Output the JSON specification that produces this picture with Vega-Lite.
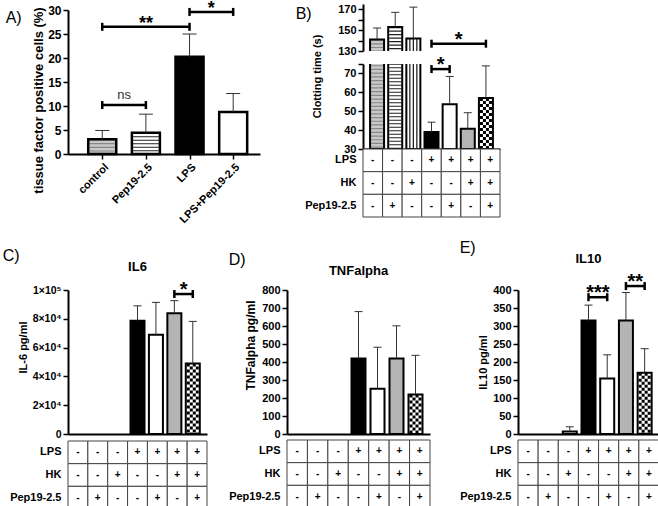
{
"$schema":"https://vega.github.io/schema/vega-lite/v6.json",
"background":"white",
"padding":{"left":2,"top":-1,"right":0,"bottom":0},
"config":{"font":"Liberation Sans","view":{"stroke":null},
"axis":{"domainColor":"black","domainWidth":2,"tickColor":"black","tickWidth":1.5,"tickSize":5,"labelColor":"black","labelFontWeight":"bold","labelFontSize":11,"titleColor":"black","titleFontWeight":"bold","titleFontSize":11,"grid":false,"labelPadding":2,"titlePadding":4},
"title":{"fontWeight":"bold","fontSize":13,"color":"black"}},
"datasets":{
"a":[{"col":1,"g":1,"val":3.06,"err":4.9},{"col":2,"g":2,"val":4.45,"err":8.3},{"col":3,"g":4,"val":20.25,"err":25.0},{"col":4,"g":5,"val":8.77,"err":12.6}],
"sA_r":[{"col":1,"col2":2,"val":10.2},{"col":1,"col2":3,"val":26.5},{"col":3,"col2":4,"val":29.6}],
"sA_c":[{"col":1,"val":10.2},{"col":2,"val":10.2},{"col":1,"val":26.5},{"col":3,"val":26.5},{"col":3,"val":29.6},{"col":4,"val":29.6}],
"sA_t":[{"col":1.5,"val":10.2,"label":"ns"},{"col":2,"val":26.5,"label":"**"},{"col":3.5,"val":29.6,"label":"*"}],
"b":[{"col":1,"val":141,"err":152},{"col":2,"val":153,"err":167},{"col":3,"val":142,"err":172},{"col":4,"val":39,"err":44.2},{"col":5,"val":53.7,"err":68.4},{"col":6,"val":40.7,"err":49.2},{"col":7,"val":57,"err":74}],
"sB1_r":[{"col":4,"col2":7,"val":137}],
"sB1_c":[{"col":4,"val":137},{"col":7,"val":137}],
"sB1_t":[{"col":5.5,"val":137,"label":"*"}],
"sB2_r":[{"col":4,"col2":5,"val":72.3}],
"sB2_c":[{"col":4,"val":72.3},{"col":5,"val":72.3}],
"sB2_t":[{"col":4.5,"val":72.3,"label":"*"}],
"c":[{"col":4,"val":78700,"err":89000},{"col":5,"val":69000,"err":91400},{"col":6,"val":83800,"err":92600},{"col":7,"val":49000,"err":78200}],
"sC_r":[{"col":6,"col2":7,"val":97200}],
"sC_c":[{"col":6,"val":97200},{"col":7,"val":97200}],
"sC_t":[{"col":6.5,"val":97200,"label":"*"}],
"d":[{"col":4,"val":419,"err":680},{"col":5,"val":252,"err":482},{"col":6,"val":419,"err":601},{"col":7,"val":220,"err":437}],
"e":[{"col":3,"val":7,"err":20},{"col":4,"val":315,"err":358},{"col":5,"val":154,"err":220},{"col":6,"val":315,"err":393},{"col":7,"val":170,"err":237}],
"sE_r":[{"col":4,"col2":5,"val":380},{"col":6,"col2":7,"val":411}],
"sE_c":[{"col":4,"val":380},{"col":5,"val":380},{"col":6,"val":411},{"col":7,"val":411}],
"sE_t":[{"col":4.5,"val":380,"label":"***"},{"col":6.5,"val":411,"label":"**"}],
"tbl":[{"col":1,"row":"LPS","sym":"-"},{"col":2,"row":"LPS","sym":"-"},{"col":3,"row":"LPS","sym":"-"},{"col":4,"row":"LPS","sym":"+"},{"col":5,"row":"LPS","sym":"+"},{"col":6,"row":"LPS","sym":"+"},{"col":7,"row":"LPS","sym":"+"},
{"col":1,"row":"HK","sym":"-"},{"col":2,"row":"HK","sym":"-"},{"col":3,"row":"HK","sym":"+"},{"col":4,"row":"HK","sym":"-"},{"col":5,"row":"HK","sym":"-"},{"col":6,"row":"HK","sym":"+"},{"col":7,"row":"HK","sym":"+"},
{"col":1,"row":"Pep19-2.5","sym":"-"},{"col":2,"row":"Pep19-2.5","sym":"+"},{"col":3,"row":"Pep19-2.5","sym":"-"},{"col":4,"row":"Pep19-2.5","sym":"-"},{"col":5,"row":"Pep19-2.5","sym":"+"},{"col":6,"row":"Pep19-2.5","sym":"-"},{"col":7,"row":"Pep19-2.5","sym":"+"}]
},
"spacing":15,
"vconcat":[
{"spacing":35,"hconcat":[
 {"spacing":0,"bounds":"flush","vconcat":[
  {"width":192,"height":6,"data":{"values":[{}]},"mark":{"type":"rule","opacity":0},"encoding":{}},
  {"title":{"text":"A)","anchor":"start","frame":"bounds","fontSize":16,"fontWeight":"normal","offset":-13,"dx":-27,"dy":13},
  "width":192,"height":144,
  "data":{"name":"a"},
  "encoding":{
   "x":{"field":"col","type":"quantitative","scale":{"domain":[0.33,4.5],"nice":false,"zero":false},"axis":{"values":[1,2,3,4],"labelExpr":"['','control','Pep19-2.5','LPS','LPS+Pep19-2.5'][datum.value]","labelAngle":-45,"labelAlign":"right","labelBaseline":"top","labelFontSize":11,"labelOverlap":false,"title":null,"labelPadding":2}},
   "y":{"field":"val","type":"quantitative","scale":{"domain":[0,30],"nice":false},"axis":{"values":[0,5,10,15,20,25,30],"title":"tissue factor positive cells (%)","titleFontSize":13,"titleY":90,"titlePadding":2,"labelFontSize":12}}
  },
  "layer":[
   {"mark":{"type":"bar","width":28},"encoding":{"y2":{"datum":0},"fill":{"field":"g","type":"ordinal","scale":{"domain":[1,2,3,4,5,6,7],"range":["#c8c8c8","white","white","black","white","#b4b4b4","white"]},"legend":null}}},
   {"transform":[{"filter":"datum.col==1"}],"mark":{"type":"rule","strokeWidth":26,"strokeDash":[1.2,2.5],"stroke":"#888"},"encoding":{"y2":{"datum":0}}},
   {"transform":[{"filter":"datum.col==2"}],"mark":{"type":"rule","strokeWidth":26,"strokeDash":[1.2,2.3],"stroke":"#222"},"encoding":{"y2":{"datum":0}}},
   {"mark":{"type":"bar","width":28,"fill":"transparent","stroke":"black","strokeWidth":2.5},"encoding":{"y2":{"datum":0}}},
   {"mark":{"type":"rule","stroke":"#333","strokeWidth":1},"encoding":{"y2":{"field":"err"}}},
   {"mark":{"type":"point","shape":"M-1,0H1","size":196,"filled":false,"stroke":"#333","strokeWidth":1,"opacity":1},"encoding":{"y":{"field":"err","type":"quantitative","scale":{"domain":[0,30],"nice":false}}}},
   {"data":{"name":"sA_r"},"mark":{"type":"rule","stroke":"black","strokeWidth":2.5},"encoding":{"x2":{"field":"col2"}}},
   {"data":{"name":"sA_c"},"mark":{"type":"point","shape":"M0,-1V1","size":64,"filled":false,"stroke":"black","strokeWidth":2.5,"opacity":1}},
   {"data":{"name":"sA_t"},"transform":[{"filter":"datum.label=='ns'"}],"mark":{"type":"text","fontSize":13,"fontWeight":"normal","color":"#333","baseline":"alphabetic","dy":-6},"encoding":{"text":{"field":"label"}}},
   {"data":{"name":"sA_t"},"transform":[{"filter":"datum.label!='ns'"}],"mark":{"type":"text","fontSize":18,"fontWeight":"bold","color":"black","baseline":"alphabetic","dy":2},"encoding":{"text":{"field":"label"}}}
  ]}]},
 {"title":{"text":"B)","anchor":"start","frame":"bounds","fontSize":16,"fontWeight":"normal","offset":-15,"dx":-9,"dy":4},
  "spacing":13,"bounds":"flush",
  "vconcat":[
  {"width":137,"height":47,"data":{"name":"b"},
   "encoding":{
    "x":{"field":"col","type":"quantitative","scale":{"domain":[0.5,7.5],"nice":false,"zero":false},"axis":null},
    "y":{"field":"val","type":"quantitative","scale":{"domain":[130,175],"nice":false,"zero":false},"axis":{"values":[130,140,150,160,170],"title":null}}
   },
   "layer":[
    {"mark":{"type":"bar","width":14,"clip":true},"encoding":{"y2":{"datum":30},"fill":{"field":"col","type":"ordinal","scale":{"domain":[1,2,3,4,5,6,7],"range":["#c8c8c8","white","white","black","white","#b4b4b4","white"]},"legend":null}}},
    {"transform":[{"filter":"datum.col==1"}],"mark":{"type":"rule","clip":true,"strokeWidth":12,"strokeDash":[1.2,2.5],"stroke":"#888"},"encoding":{"y2":{"datum":30}}},
    {"transform":[{"filter":"datum.col==2"}],"mark":{"type":"rule","clip":true,"strokeWidth":12,"strokeDash":[1.2,2.3],"stroke":"#222"},"encoding":{"y2":{"datum":30}}},
    {"transform":[{"filter":"datum.col==3"}],"mark":{"type":"rule","clip":true,"strokeWidth":1.3,"stroke":"#222","xOffset":-3.5},"encoding":{"y2":{"datum":30}}},
    {"transform":[{"filter":"datum.col==3"}],"mark":{"type":"rule","clip":true,"strokeWidth":1.3,"stroke":"#222","xOffset":0},"encoding":{"y2":{"datum":30}}},
    {"transform":[{"filter":"datum.col==3"}],"mark":{"type":"rule","clip":true,"strokeWidth":1.3,"stroke":"#222","xOffset":3.5},"encoding":{"y2":{"datum":30}}},
    {"mark":{"type":"bar","width":14,"clip":true,"fill":"transparent","stroke":"black","strokeWidth":2},"encoding":{"y2":{"datum":30}}},
    {"mark":{"type":"rule","clip":true,"stroke":"#333","strokeWidth":1},"encoding":{"y2":{"field":"err"}}},
    {"mark":{"type":"point","clip":true,"shape":"M-1,0H1","size":64,"filled":false,"stroke":"#333","strokeWidth":1,"opacity":1},"encoding":{"y":{"field":"err","type":"quantitative","scale":{"domain":[130,175],"nice":false,"zero":false}}}},
    {"data":{"name":"sB1_r"},"mark":{"type":"rule","stroke":"black","strokeWidth":2.5},"encoding":{"x2":{"field":"col2"}}},
    {"data":{"name":"sB1_c"},"mark":{"type":"point","shape":"M0,-1V1","size":64,"filled":false,"stroke":"black","strokeWidth":2.5,"opacity":1}},
    {"data":{"name":"sB1_t"},"mark":{"type":"text","fontSize":20,"fontWeight":"bold","color":"black","baseline":"alphabetic","dy":2},"encoding":{"text":{"field":"label"}}}
   ]},
  {"spacing":0,"bounds":"flush","vconcat":[
   {"width":137,"height":85,"data":{"name":"b"},
    "encoding":{
     "x":{"field":"col","type":"quantitative","scale":{"domain":[0.5,7.5],"nice":false,"zero":false},"axis":{"labels":false,"ticks":false,"title":null}},
     "y":{"field":"val","type":"quantitative","scale":{"domain":[30,75],"nice":false,"zero":false},"axis":{"values":[30,40,50,60,70,75],"labelExpr":"datum.value==75?'':datum.label","title":"Clotting time (s)","titleY":12,"titlePadding":21}}
    },
    "layer":[
     {"mark":{"type":"bar","width":14,"clip":true},"encoding":{"y2":{"datum":30},"fill":{"field":"col","type":"ordinal","scale":{"domain":[1,2,3,4,5,6,7],"range":["#c8c8c8","white","white","black","white","#b4b4b4","white"]},"legend":null}}},
     {"transform":[{"filter":"datum.col==1"}],"mark":{"type":"rule","clip":true,"strokeWidth":12,"strokeDash":[1.2,2.5],"stroke":"#888"},"encoding":{"y2":{"datum":30}}},
     {"transform":[{"filter":"datum.col==2"}],"mark":{"type":"rule","clip":true,"strokeWidth":12,"strokeDash":[1.2,2.3],"stroke":"#222"},"encoding":{"y2":{"datum":30}}},
     {"transform":[{"filter":"datum.col==3"}],"mark":{"type":"rule","clip":true,"strokeWidth":1.3,"stroke":"#222","xOffset":-3.5},"encoding":{"y2":{"datum":30}}},
     {"transform":[{"filter":"datum.col==3"}],"mark":{"type":"rule","clip":true,"strokeWidth":1.3,"stroke":"#222","xOffset":0},"encoding":{"y2":{"datum":30}}},
     {"transform":[{"filter":"datum.col==3"}],"mark":{"type":"rule","clip":true,"strokeWidth":1.3,"stroke":"#222","xOffset":3.5},"encoding":{"y2":{"datum":30}}},
     {"transform":[{"filter":"datum.col==7"}],"mark":{"type":"rule","clip":true,"strokeWidth":3,"stroke":"black","strokeDash":[3,3],"strokeDashOffset":0,"xOffset":-4.5},"encoding":{"y2":{"datum":30}}},
     {"transform":[{"filter":"datum.col==7"}],"mark":{"type":"rule","clip":true,"strokeWidth":3,"stroke":"black","strokeDash":[3,3],"strokeDashOffset":3,"xOffset":-1.5},"encoding":{"y2":{"datum":30}}},
     {"transform":[{"filter":"datum.col==7"}],"mark":{"type":"rule","clip":true,"strokeWidth":3,"stroke":"black","strokeDash":[3,3],"strokeDashOffset":0,"xOffset":1.5},"encoding":{"y2":{"datum":30}}},
     {"transform":[{"filter":"datum.col==7"}],"mark":{"type":"rule","clip":true,"strokeWidth":3,"stroke":"black","strokeDash":[3,3],"strokeDashOffset":3,"xOffset":4.5},"encoding":{"y2":{"datum":30}}},
     {"mark":{"type":"bar","width":14,"clip":true,"fill":"transparent","stroke":"black","strokeWidth":2},"encoding":{"y2":{"datum":30}}},
     {"mark":{"type":"rule","clip":true,"stroke":"#333","strokeWidth":1},"encoding":{"y2":{"field":"err"}}},
     {"mark":{"type":"point","clip":true,"shape":"M-1,0H1","size":64,"filled":false,"stroke":"#333","strokeWidth":1,"opacity":1},"encoding":{"y":{"field":"err","type":"quantitative","scale":{"domain":[30,75],"nice":false,"zero":false}}}},
     {"data":{"name":"sB2_r"},"mark":{"type":"rule","stroke":"black","strokeWidth":2.5},"encoding":{"x2":{"field":"col2"}}},
     {"data":{"name":"sB2_c"},"mark":{"type":"point","shape":"M0,-1V1","size":64,"filled":false,"stroke":"black","strokeWidth":2.5,"opacity":1}},
     {"data":{"name":"sB2_t"},"mark":{"type":"text","fontSize":20,"fontWeight":"bold","color":"black","baseline":"alphabetic","dy":2},"encoding":{"text":{"field":"label"}}}
    ]},
   {"width":137,"height":68,"data":{"name":"tbl"},
    "encoding":{
     "x":{"field":"col","type":"ordinal","axis":null,"scale":{"paddingInner":0,"paddingOuter":0}},
     "y":{"field":"row","type":"nominal","sort":["LPS","HK","Pep19-2.5"],"scale":{"paddingInner":0,"paddingOuter":0},"axis":{"title":null,"domain":false,"ticks":false,"labelPadding":7}}
    },
    "layer":[
     {"mark":{"type":"rect","fill":"white","stroke":"#444","strokeWidth":1}},
     {"mark":{"type":"text","fontSize":10,"fontWeight":"bold","color":"black"},"encoding":{"text":{"field":"sym"}}}
    ]}
  ]}
 ]}
]},
{"spacing":20,"hconcat":[
 {"title":{"text":"C)","anchor":"start","frame":"bounds","fontSize":16,"fontWeight":"normal","offset":2,"dx":-7,"dy":5},
  "spacing":0,
  "vconcat":[
  {"width":139,"height":144,"title":{"text":"IL6","frame":"group","offset":6},"data":{"name":"c"},
   "encoding":{
    "x":{"field":"col","type":"quantitative","scale":{"domain":[0.5,7.5],"nice":false,"zero":false},"axis":{"labels":false,"ticks":false,"title":null}},
    "y":{"field":"val","type":"quantitative","scale":{"domain":[0,100000],"nice":false},"axis":{"values":[0,20000,40000,60000,80000,100000],"labelExpr":"datum.value==0?'0':datum.value==100000?'1×10⁵':(datum.value/10000)+'×10⁴'","title":"IL-6 pg/ml","titleY":57,"labelFontSize":10.5}}
   },
   "layer":[
    {"mark":{"type":"bar","width":14},"encoding":{"y2":{"datum":0},"fill":{"field":"col","type":"ordinal","scale":{"domain":[1,2,3,4,5,6,7],"range":["#c8c8c8","white","white","black","white","#b4b4b4","white"]},"legend":null}}},
    {"transform":[{"filter":"datum.col==7"}],"mark":{"type":"rule","strokeWidth":3,"stroke":"black","strokeDash":[3,3],"strokeDashOffset":0,"xOffset":-4.5},"encoding":{"y2":{"datum":0}}},
    {"transform":[{"filter":"datum.col==7"}],"mark":{"type":"rule","strokeWidth":3,"stroke":"black","strokeDash":[3,3],"strokeDashOffset":3,"xOffset":-1.5},"encoding":{"y2":{"datum":0}}},
    {"transform":[{"filter":"datum.col==7"}],"mark":{"type":"rule","strokeWidth":3,"stroke":"black","strokeDash":[3,3],"strokeDashOffset":0,"xOffset":1.5},"encoding":{"y2":{"datum":0}}},
    {"transform":[{"filter":"datum.col==7"}],"mark":{"type":"rule","strokeWidth":3,"stroke":"black","strokeDash":[3,3],"strokeDashOffset":3,"xOffset":4.5},"encoding":{"y2":{"datum":0}}},
    {"mark":{"type":"bar","width":14,"fill":"transparent","stroke":"black","strokeWidth":2},"encoding":{"y2":{"datum":0}}},
    {"mark":{"type":"rule","stroke":"#333","strokeWidth":1},"encoding":{"y2":{"field":"err"}}},
    {"mark":{"type":"point","shape":"M-1,0H1","size":64,"filled":false,"stroke":"#333","strokeWidth":1,"opacity":1},"encoding":{"y":{"field":"err","type":"quantitative","scale":{"domain":[0,100000],"nice":false}}}},
    {"data":{"name":"sC_r"},"mark":{"type":"rule","stroke":"black","strokeWidth":2.5},"encoding":{"x2":{"field":"col2"}}},
    {"data":{"name":"sC_c"},"mark":{"type":"point","shape":"M0,-1V1","size":64,"filled":false,"stroke":"black","strokeWidth":2.5,"opacity":1}},
    {"data":{"name":"sC_t"},"mark":{"type":"text","fontSize":20,"fontWeight":"bold","color":"black","baseline":"alphabetic","dy":2},"encoding":{"text":{"field":"label"}}}
   ]},
  {"width":139,"height":68,"data":{"name":"tbl"},
   "encoding":{
    "x":{"field":"col","type":"ordinal","axis":null,"scale":{"paddingInner":0,"paddingOuter":0}},
    "y":{"field":"row","type":"nominal","sort":["LPS","HK","Pep19-2.5"],"scale":{"paddingInner":0,"paddingOuter":0},"axis":{"title":null,"domain":false,"ticks":false,"labelPadding":7}}
   },
   "layer":[
    {"mark":{"type":"rect","fill":"white","stroke":"#444","strokeWidth":1}},
    {"mark":{"type":"text","fontSize":10,"fontWeight":"bold","color":"black"},"encoding":{"text":{"field":"sym"}}}
   ]}
 ]},
 {"spacing":28,"hconcat":[
  {"title":{"text":"D)","anchor":"start","frame":"bounds","fontSize":16,"fontWeight":"normal","offset":2,"dy":5},
   "spacing":0,
   "vconcat":[
   {"width":143,"height":144,"title":{"text":"TNFalpha","frame":"group","offset":6},"data":{"name":"d"},
    "encoding":{
     "x":{"field":"col","type":"quantitative","scale":{"domain":[0.5,7.5],"nice":false,"zero":false},"axis":{"labels":false,"ticks":false,"title":null}},
     "y":{"field":"val","type":"quantitative","scale":{"domain":[0,800],"nice":false},"axis":{"values":[0,100,200,300,400,500,600,700,800],"title":"TNFalpha pg/ml","titleY":55,"titleFontSize":12}}
    },
    "layer":[
     {"mark":{"type":"bar","width":14},"encoding":{"y2":{"datum":0},"fill":{"field":"col","type":"ordinal","scale":{"domain":[1,2,3,4,5,6,7],"range":["#c8c8c8","white","white","black","white","#b4b4b4","white"]},"legend":null}}},
     {"transform":[{"filter":"datum.col==7"}],"mark":{"type":"rule","strokeWidth":3,"stroke":"black","strokeDash":[3,3],"strokeDashOffset":0,"xOffset":-4.5},"encoding":{"y2":{"datum":0}}},
     {"transform":[{"filter":"datum.col==7"}],"mark":{"type":"rule","strokeWidth":3,"stroke":"black","strokeDash":[3,3],"strokeDashOffset":3,"xOffset":-1.5},"encoding":{"y2":{"datum":0}}},
     {"transform":[{"filter":"datum.col==7"}],"mark":{"type":"rule","strokeWidth":3,"stroke":"black","strokeDash":[3,3],"strokeDashOffset":0,"xOffset":1.5},"encoding":{"y2":{"datum":0}}},
     {"transform":[{"filter":"datum.col==7"}],"mark":{"type":"rule","strokeWidth":3,"stroke":"black","strokeDash":[3,3],"strokeDashOffset":3,"xOffset":4.5},"encoding":{"y2":{"datum":0}}},
     {"mark":{"type":"bar","width":14,"fill":"transparent","stroke":"black","strokeWidth":2},"encoding":{"y2":{"datum":0}}},
     {"mark":{"type":"rule","stroke":"#333","strokeWidth":1},"encoding":{"y2":{"field":"err"}}},
     {"mark":{"type":"point","shape":"M-1,0H1","size":64,"filled":false,"stroke":"#333","strokeWidth":1,"opacity":1},"encoding":{"y":{"field":"err","type":"quantitative","scale":{"domain":[0,800],"nice":false}}}}
    ]},
   {"width":143,"height":68,"data":{"name":"tbl"},
    "encoding":{
     "x":{"field":"col","type":"ordinal","axis":null,"scale":{"paddingInner":0,"paddingOuter":0}},
     "y":{"field":"row","type":"nominal","sort":["LPS","HK","Pep19-2.5"],"scale":{"paddingInner":0,"paddingOuter":0},"axis":{"title":null,"domain":false,"ticks":false,"labelPadding":7}}
    },
    "layer":[
     {"mark":{"type":"rect","fill":"white","stroke":"#444","strokeWidth":1}},
     {"mark":{"type":"text","fontSize":10,"fontWeight":"bold","color":"black"},"encoding":{"text":{"field":"sym"}}}
    ]}
  ]},
  {"title":{"text":"E)","anchor":"start","frame":"bounds","fontSize":16,"fontWeight":"normal","offset":2,"dy":5},
   "spacing":0,
   "vconcat":[
   {"width":141,"height":144,"title":{"text":"IL10","frame":"group","offset":6},"data":{"name":"e"},
    "encoding":{
     "x":{"field":"col","type":"quantitative","scale":{"domain":[0.5,7.5],"nice":false,"zero":false},"axis":{"labels":false,"ticks":false,"title":null}},
     "y":{"field":"val","type":"quantitative","scale":{"domain":[0,400],"nice":false},"axis":{"values":[0,50,100,150,200,250,300,350,400],"title":"IL10 pg/ml"}}
    },
    "layer":[
     {"mark":{"type":"bar","width":14},"encoding":{"y2":{"datum":0},"fill":{"field":"col","type":"ordinal","scale":{"domain":[1,2,3,4,5,6,7],"range":["#c8c8c8","white","white","black","white","#b4b4b4","white"]},"legend":null}}},
     {"transform":[{"filter":"datum.col==7"}],"mark":{"type":"rule","strokeWidth":3,"stroke":"black","strokeDash":[3,3],"strokeDashOffset":0,"xOffset":-4.5},"encoding":{"y2":{"datum":0}}},
     {"transform":[{"filter":"datum.col==7"}],"mark":{"type":"rule","strokeWidth":3,"stroke":"black","strokeDash":[3,3],"strokeDashOffset":3,"xOffset":-1.5},"encoding":{"y2":{"datum":0}}},
     {"transform":[{"filter":"datum.col==7"}],"mark":{"type":"rule","strokeWidth":3,"stroke":"black","strokeDash":[3,3],"strokeDashOffset":0,"xOffset":1.5},"encoding":{"y2":{"datum":0}}},
     {"transform":[{"filter":"datum.col==7"}],"mark":{"type":"rule","strokeWidth":3,"stroke":"black","strokeDash":[3,3],"strokeDashOffset":3,"xOffset":4.5},"encoding":{"y2":{"datum":0}}},
     {"mark":{"type":"bar","width":14,"fill":"transparent","stroke":"black","strokeWidth":2},"encoding":{"y2":{"datum":0}}},
     {"mark":{"type":"rule","stroke":"#333","strokeWidth":1},"encoding":{"y2":{"field":"err"}}},
     {"mark":{"type":"point","shape":"M-1,0H1","size":64,"filled":false,"stroke":"#333","strokeWidth":1,"opacity":1},"encoding":{"y":{"field":"err","type":"quantitative","scale":{"domain":[0,400],"nice":false}}}},
     {"data":{"name":"sE_r"},"mark":{"type":"rule","stroke":"black","strokeWidth":2.5},"encoding":{"x2":{"field":"col2"}}},
     {"data":{"name":"sE_c"},"mark":{"type":"point","shape":"M0,-1V1","size":64,"filled":false,"stroke":"black","strokeWidth":2.5,"opacity":1}},
     {"data":{"name":"sE_t"},"mark":{"type":"text","fontSize":20,"fontWeight":"bold","color":"black","baseline":"alphabetic","dy":2},"encoding":{"text":{"field":"label"}}}
    ]},
   {"width":141,"height":68,"data":{"name":"tbl"},
    "encoding":{
     "x":{"field":"col","type":"ordinal","axis":null,"scale":{"paddingInner":0,"paddingOuter":0}},
     "y":{"field":"row","type":"nominal","sort":["LPS","HK","Pep19-2.5"],"scale":{"paddingInner":0,"paddingOuter":0},"axis":{"title":null,"domain":false,"ticks":false,"labelPadding":7}}
    },
    "layer":[
     {"mark":{"type":"rect","fill":"white","stroke":"#444","strokeWidth":1}},
     {"mark":{"type":"text","fontSize":10,"fontWeight":"bold","color":"black"},"encoding":{"text":{"field":"sym"}}}
    ]}
  ]}
 ]}
]}
]
}
